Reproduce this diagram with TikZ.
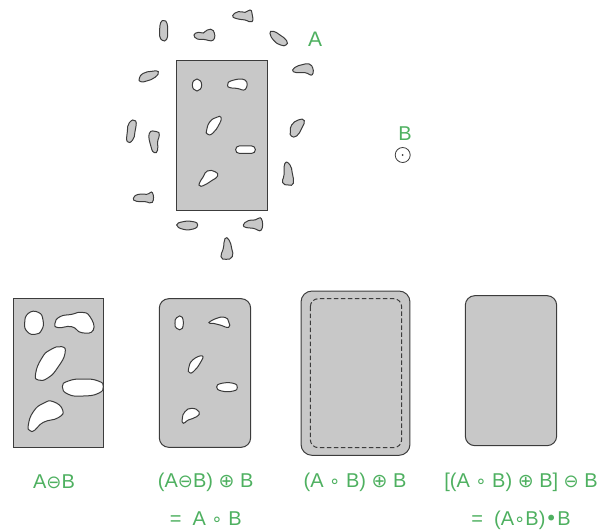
\documentclass[tikz,border=0pt]{standalone}
\usepackage{fontspec}
\setmainfont{Liberation Sans}
\newfontfamily\opfont{DejaVu Sans}
\definecolor{lbl}{RGB}{78,176,96}
\definecolor{blobfill}{RGB}{200,200,200}
\definecolor{edge}{RGB}{60,60,60}
\newcommand{\opm}{{\opfont\fontsize{18}{18}\selectfont ⊖}}
\newcommand{\opp}{{\opfont\fontsize{19}{19}\selectfont ⊕}}
\newcommand{\opc}{{\opfont\fontsize{18}{18}\selectfont ∘}}
\newcommand{\opd}{{\opfont\fontsize{20}{20}\selectfont •}}
\tikzset{
  solidshape/.style={fill=blobfill,draw=edge,line width=1pt},
  hole/.style={fill=white,draw=edge,line width=1pt},
  blob/.style={fill=blobfill,draw=edge,line width=1pt},
  lab/.style={text=lbl,font=\fontsize{20}{20}\selectfont,inner sep=0pt,anchor=center}
}
\newcommand{\shp}[2]{\draw[#1] plot[smooth cycle,tension=0.9] coordinates {#2};}
\begin{document}
\begin{tikzpicture}[x=1pt,y=-1pt]
\useasboundingbox (0,0) rectangle (601,531);
% top group: zoom coordinates, offset (120,0)
\begin{scope}[shift={(120,0)},x=0.3333pt,y=-0.3333pt]
\shp{blob}{(119,90)(122,68)(132,62)(141,70)(143,95)(140,118)(127,121)(119,108)}
\shp{blob}{(222,105)(235,97)(250,99)(262,90)(280,92)(280,120)(250,118)(232,117)}
\shp{blob}{(338,47)(355,35)(375,37)(390,30)(396,40)(396,65)(375,60)(350,56)}
\shp{blob}{(450,100)(460,94)(480,105)(500,122)(498,135)(482,135)(462,122)}
\shp{blob}{(518,210)(535,197)(555,192)(575,197)(577,224)(555,218)(530,218)}
\shp{blob}{(58,235)(70,220)(95,214)(115,215)(105,232)(80,243)(62,245)}
\shp{blob}{(511,395)(515,375)(535,360)(553,362)(545,385)(530,408)(514,408)}
\shp{blob}{(22,395)(28,368)(47,363)(45,395)(38,420)(22,425)}
\shp{blob}{(88,400)(110,395)(118,405)(113,425)(113,450)(103,458)(93,440)}
\shp{blob}{(495,490)(510,495)(517,520)(520,550)(505,555)(488,548)(492,525)}
\shp{blob}{(40,595)(55,583)(80,583)(97,578)(97,607)(75,605)(50,604)}
\shp{blob}{(170,675)(190,665)(220,665)(233,675)(220,687)(190,688)}
\shp{blob}{(370,675)(385,662)(405,660)(424,656)(424,690)(400,685)(380,683)}
\shp{blob}{(315,716)(327,720)(335,745)(337,770)(318,778)(303,770)(310,745)}
\draw[solidshape] (171,183) rectangle (444,632);
\draw[hole] (231,255) ellipse [x radius=14,y radius=18];
\shp{hole}{(323,255)(335,242)(375,240)(376,268)(350,265)(330,263)}
\shp{hole}{(260,390)(270,365)(290,352)(303,352)(298,372)(278,400)(262,402)}
\draw[hole,rounded corners=3.5pt] (347,438) rectangle (406,460);
\shp{hole}{(238,550)(250,530)(262,513)(285,515)(293,528)(275,542)(250,557)(240,557)}
\end{scope}
% bottom left pair: zoom coordinates, offset (0,285)
\begin{scope}[shift={(0,285)},x=0.3333pt,y=-0.3333pt]
\draw[solidshape] (41,41) rectangle (311,487);
\shp{hole}{(74,115)(85,85)(115,82)(129,105)(125,135)(105,148)(82,140)}
\shp{hole}{(165,115)(180,95)(215,88)(245,82)(270,95)(280,135)(245,143)(215,125)(175,128)}
\shp{hole}{(107,265)(125,220)(150,195)(185,185)(195,205)(175,245)(145,278)(115,285)}
\shp{hole}{(187,305)(205,288)(250,282)(295,288)(310,305)(295,325)(250,333)(205,328)}
\shp{hole}{(85,420)(100,380)(130,355)(160,350)(188,375)(175,398)(130,412)(105,435)(90,437)}
\draw[solidshape,rounded corners=9.5pt] (478,41) rectangle (752,487);
\shp{hole}{(525,115)(530,98)(547,97)(547,130)(530,130)}
\shp{hole}{(627,113)(650,100)(675,97)(686,110)(686,127)(660,120)(640,115)}
\shp{hole}{(566,250)(578,225)(607,213)(600,235)(580,260)(568,262)}
\shp{hole}{(650,306)(665,295)(700,295)(712,307)(700,318)(665,318)}
\shp{hole}{(547,400)(555,380)(575,370)(597,380)(590,395)(565,405)(550,415)}
\end{scope}
% bottom right pair: zoom coordinates, offset (280,280)
\begin{scope}[shift={(280,280)},x=0.3333pt,y=-0.3333pt]
\draw[solidshape,rounded corners=11pt] (63,33) rectangle (390,526);
\draw[edge,line width=1pt,dash pattern=on 4.5pt off 2.5pt,rounded corners=8pt] (91,56) rectangle (365,503);
\draw[solidshape,rounded corners=9.5pt] (556,47) rectangle (830,497);
\end{scope}
% probe B
\node[draw=edge,circle,line width=0.8pt,minimum size=15pt,inner sep=0pt] (probe) at (402.7,155) {};
\fill[edge] (probe.center) circle (1pt);
% labels
\node[lab,font=\fontsize{21}{21}\selectfont] (lA) at (315,39) {A};
\node[lab] (lB) at (405,134) {B};
\node[lab] (l1) at (54,482) {A\opm B};
\node[lab] (l2) at (205.7,482) {(A\opm B) \opp\ B};
\node[lab] (l2b) at (205.7,519) {=\ \ A \opc\ B};
\node[lab] (l3) at (355,482) {(A \opc\ B) \opp\ B};
\node[lab] (l4) at (521,482) {[(A \opc\ B) \opp\ B] \opm\ B};
\node[lab] (l4b) at (521,520) {=\ \ (A\opc B)\opd B};
\end{tikzpicture}
\end{document}
